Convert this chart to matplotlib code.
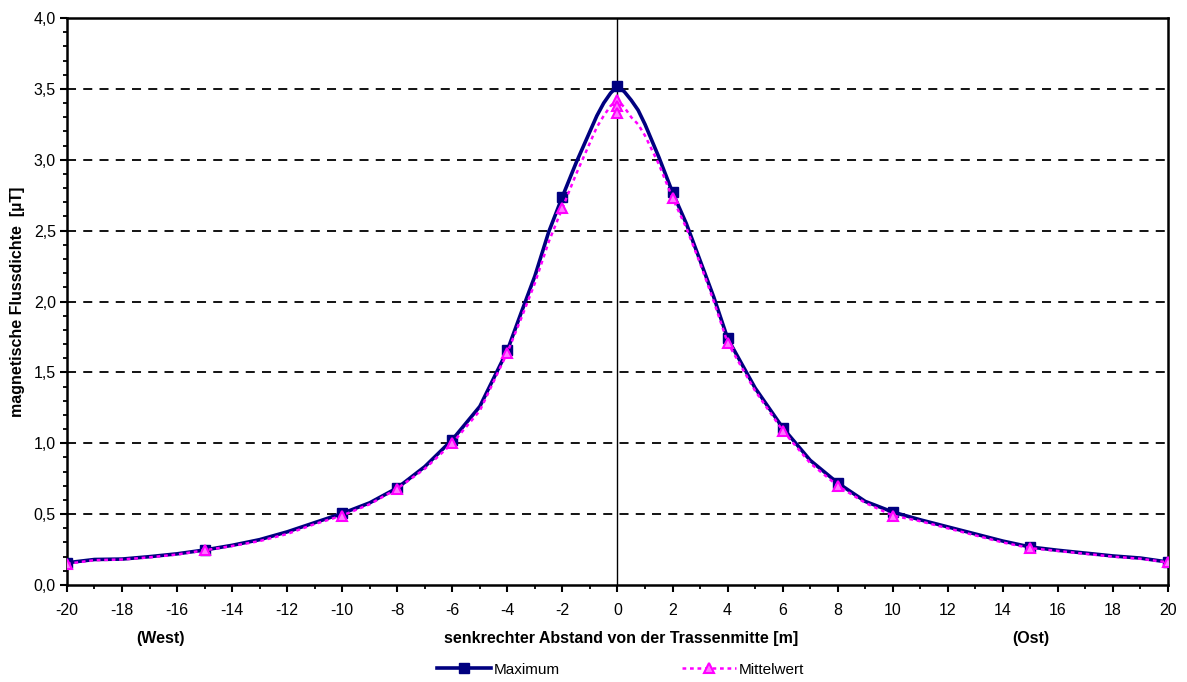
import numpy as np
import matplotlib
matplotlib.use('Agg')
from matplotlib import pyplot as plt
from matplotlib.ticker import MultipleLocator, FuncFormatter

plt.rcParams['font.family'] = ['Liberation Sans', 'DejaVu Sans']
plt.rcParams['axes.unicode_minus'] = False

# Abstand von der Trassenmitte [m]
abstand = [-20, -19, -18, -17, -16, -15, -14, -13, -12, -11, -10, -9, -8, -7, -6, -5, -4,
           -3.5, -3, -2.5, -2, -1.5, -1, -0.75, -0.5, -0.25, 0, 0.25, 0.5, 0.75, 1, 1.5,
           2, 2.5, 3, 3.5, 4, 5, 6, 7, 8, 9, 10, 11, 12, 13, 14, 15, 16, 17, 18, 19, 20]

maximum = [0.157, 0.18, 0.183, 0.20, 0.22, 0.247, 0.28, 0.32, 0.375, 0.44, 0.505, 0.58, 0.685,
           0.835, 1.025, 1.26, 1.655, 1.92, 2.18, 2.49, 2.74, 2.98, 3.20, 3.31, 3.40, 3.47,
           3.52, 3.48, 3.42, 3.35, 3.25, 3.02, 2.77, 2.55, 2.29, 2.03, 1.74, 1.39, 1.11, 0.88,
           0.72, 0.59, 0.515, 0.46, 0.41, 0.36, 0.31, 0.268, 0.245, 0.225, 0.205, 0.19, 0.162]

mittelwert = [0.15, 0.175, 0.18, 0.195, 0.215, 0.245, 0.275, 0.31, 0.36, 0.43, 0.49, 0.57, 0.68,
              0.82, 1.00, 1.23, 1.64, 1.88, 2.13, 2.42, 2.66, 2.90, 3.12, 3.23, 3.31, 3.38,
              3.42, 3.37, 3.30, 3.25, 3.17, 2.97, 2.73, 2.52, 2.27, 2.00, 1.71, 1.37, 1.09, 0.86,
              0.70, 0.58, 0.49, 0.45, 0.40, 0.35, 0.30, 0.26, 0.24, 0.22, 0.20, 0.185, 0.16]

# Messpunkte mit Markern
mess_x = [-20, -15, -10, -8, -6, -4, -2, 0, 2, 4, 6, 8, 10, 15, 20]
mess_idx = [abstand.index(v) for v in mess_x]

# weitere Mittelwerte bei 0 m
mittel_null = [3.38, 3.33]

fig = plt.figure(figsize=(11.87, 6.82), dpi=100)
ax = fig.add_axes([0.0564, 0.1422, 0.9276, 0.8314])

ax.plot(abstand, maximum, color='#000080', lw=2.6, marker='s', ms=7.5,
        markevery=mess_idx, mfc='#000080', mec='#000080', label='Maximum', zorder=4)
ax.plot(abstand, mittelwert, color='#ff00ff', lw=1.8, ls=(0, (1.5, 1.5)), marker='^', ms=7,
        markevery=mess_idx, mfc='#ff77ff', mec='#ff00ff', mew=1.5, label='Mittelwert', zorder=5)
ax.plot([0] * len(mittel_null), mittel_null, ls='none', marker='^', ms=7,
        mfc='#ff77ff', mec='#ff00ff', mew=1.5, zorder=5)

ax.axvline(0, color='black', lw=1, zorder=3)
for yv in np.arange(0.5, 4.0, 0.5):
    ax.axhline(yv, color='black', lw=1.3, ls=(0, (5, 4)), zorder=1)

ax.set_xlim(-20, 20)
ax.set_ylim(0, 4.0)
ax.xaxis.set_major_locator(MultipleLocator(2))
ax.xaxis.set_minor_locator(MultipleLocator(1))
ax.yaxis.set_major_locator(MultipleLocator(0.5))
ax.yaxis.set_minor_locator(MultipleLocator(0.1))
ax.yaxis.set_major_formatter(FuncFormatter(lambda v, p: f'{v:.1f}'.replace('.', ',')))
ax.tick_params(which='major', direction='out', length=5, width=1.5, labelsize=11.5)
ax.tick_params(axis='x', which='major', pad=8)
ax.tick_params(axis='y', which='major', pad=3)
ax.tick_params(which='minor', direction='out', length=3, width=1.3)
for s in ax.spines.values():
    s.set_linewidth(1.8)

ax.set_ylabel('magnetische Flussdichte  [µT]', fontsize=11.5, fontweight='bold', labelpad=6)
fig.text(0.523, 0.064, 'senkrechter Abstand von der Trassenmitte [m]', ha='center', va='center',
         fontsize=11.5, fontweight='bold')
fig.text(0.135, 0.064, '(West)', ha='center', va='center', fontsize=11.5, fontweight='bold')
fig.text(0.868, 0.064, '(Ost)', ha='center', va='center', fontsize=11.5, fontweight='bold')

fig.legend(loc='center', bbox_to_anchor=(0.523, 0.018), ncol=2, frameon=False,
           handlelength=3.5, columnspacing=8, fontsize=11, handletextpad=0.2)

fig.savefig('out.png', dpi=100)
